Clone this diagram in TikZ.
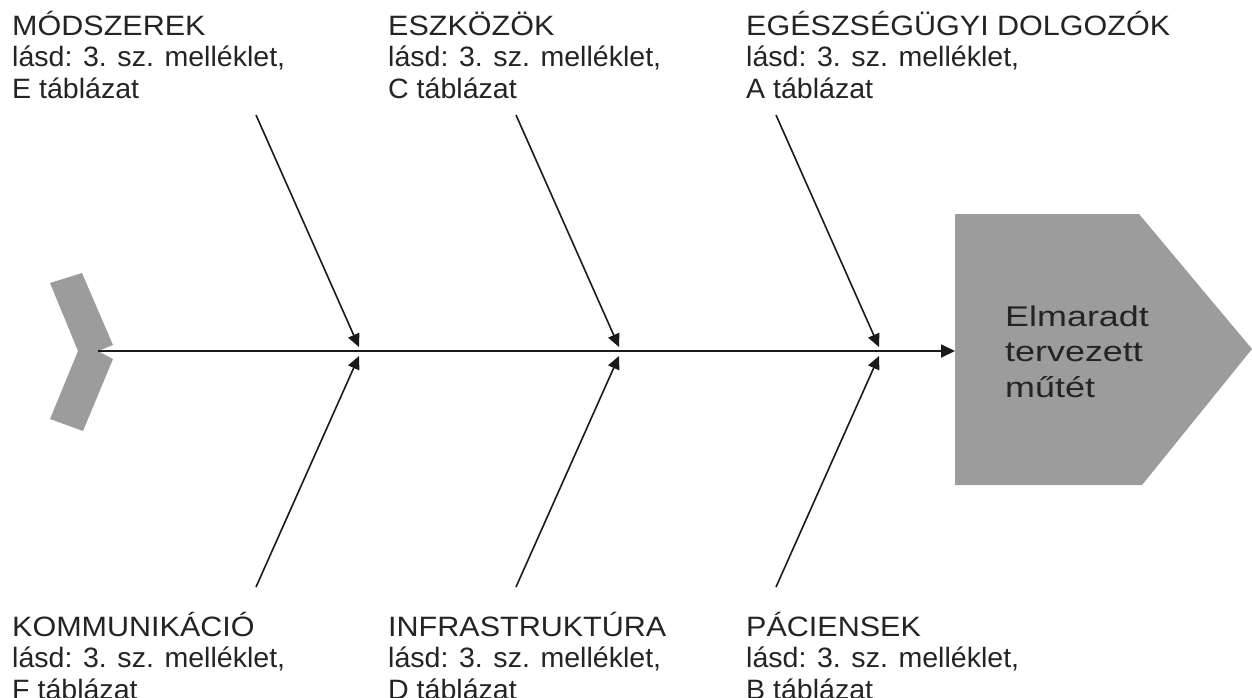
\documentclass[tikz,border=0pt]{standalone}
\usepackage{fontspec}
\setmainfont{Liberation Sans}
\newfontfamily\labelfont[FakeStretch=1.02]{Liberation Sans}
\newfontfamily\capsfont[FakeStretch=1.09]{Liberation Sans}
\newfontfamily\headfont[FakeStretch=1.26]{Liberation Sans}
\usetikzlibrary{arrows.meta}
\definecolor{boneink}{HTML}{1A1A1A}
\definecolor{labelink}{HTML}{242424}
\definecolor{shapefill}{HTML}{9B9C9B}
\tikzset{
  cause/.style={anchor=base west, inner sep=0pt, text=labelink,
    font=\labelfont\fontsize{28}{31.5}\selectfont},
  bone/.style={draw=boneink, line width=1.6pt,
    -{Triangle[length=13pt,width=12pt]}},
  spine/.style={draw=boneink, line width=1.8pt,
    -{Triangle[length=14pt,width=13pt]}},
}
\newcommand{\causetext}[2]{\begin{tabular}[t]{@{}l@{}}{\capsfont #1}\\lásd: 3. sz. melléklet,\\#2 táblázat\end{tabular}}
\begin{document}
\begin{tikzpicture}[x=1pt,y=-1pt]
\useasboundingbox (0,0) rectangle (1252,697);

% tail chevron
\fill[shapefill] (50,283) -- (82,273) -- (113,345) -- (98,351) -- (113,359)
  -- (83,431) -- (50,419) -- (78,351) -- cycle;

% head pentagon
\fill[shapefill] (955,214) -- (1139,214) -- (1252,349) -- (1142,485) -- (955,485) -- cycle;
\node[anchor=base west, inner sep=0pt, text=labelink,
  font=\headfont\fontsize{28.5}{35.5}\selectfont] (effect) at (1005,326)
  {\begin{tabular}[t]{@{}l@{}}Elmaradt\\tervezett\\műtét\end{tabular}};

% spine
\coordinate (tail) at (98,351);
\coordinate (headW) at (955,351);
\draw[spine] (tail) -- (headW);

% bone end points
\coordinate (t1) at (256,115); \coordinate (t1e) at (359,347);
\coordinate (t2) at (516,115); \coordinate (t2e) at (619,347);
\coordinate (t3) at (776,115); \coordinate (t3e) at (879,347);
\coordinate (b1) at (256,587); \coordinate (b1e) at (359,356);
\coordinate (b2) at (516,587); \coordinate (b2e) at (619,356);
\coordinate (b3) at (776,587); \coordinate (b3e) at (879,356);

\foreach \b in {t1,t2,t3,b1,b2,b3} \draw[bone] (\b) -- (\b e);

% cause labels
\node[cause] (modszerek) at (12,35) {\causetext{MÓDSZEREK}{E}};
\node[cause] (eszkozok) at (388,35) {\causetext{ESZKÖZÖK}{C}};
\node[cause] (dolgozok) at (746,35) {\causetext{EGÉSZSÉGÜGYI DOLGOZÓK}{A}};
\node[cause] (kommunikacio) at (12,636) {\causetext{KOMMUNIKÁCIÓ}{F}};
\node[cause] (infra) at (388,636) {\causetext{INFRASTRUKTÚRA}{D}};
\node[cause] (paciensek) at (746,636) {\causetext{PÁCIENSEK}{B}};
\end{tikzpicture}
\end{document}
